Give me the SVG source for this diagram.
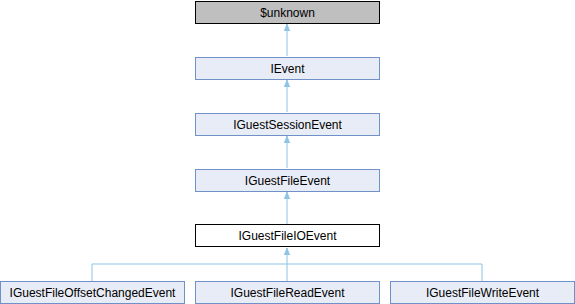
<svg xmlns="http://www.w3.org/2000/svg" width="575" height="304" viewBox="0 0 575 304">
<style>
.n{fill:#E8ECF6;stroke:#7090C8;stroke-width:1}
.t{font-family:"Liberation Sans",Arial,sans-serif;font-size:12px;fill:#000;text-anchor:middle}
.e{fill:none;stroke:#8FC3E6;stroke-width:1}
</style>
<defs>
<marker id="a" viewBox="0 0 10 10" refX="10" refY="5" markerWidth="7" markerHeight="7" orient="auto" markerUnits="userSpaceOnUse">
<path d="M0,1 L10,5 L0,9 Z" fill="#8FC3E6" stroke="#8FC3E6"/>
</marker>
</defs>
<g id="connectors">
<path class="e" d="M287,56 L287,24" marker-end="url(#a)"/>
<path class="e" d="M287,112 L287,80" marker-end="url(#a)"/>
<path class="e" d="M287,168 L287,136" marker-end="url(#a)"/>
<path class="e" d="M287,224 L287,192" marker-end="url(#a)"/>
<path class="e" d="M92,281 L92,264 L482,264 L482,281"/>
<path class="e" d="M287,281 L287,248" marker-end="url(#a)"/>
</g>
<g id="unknown"><rect x="195.5" y="1.5" width="184" height="22" fill="#BFBFBF" stroke="#000"/><text class="t" x="287.5" y="17">$unknown</text></g>
<g id="IEvent"><rect class="n" x="195.5" y="57.5" width="184" height="22"/><text class="t" x="287.5" y="73">IEvent</text></g>
<g id="IGuestSessionEvent"><rect class="n" x="195.5" y="113.5" width="184" height="22"/><text class="t" x="287.5" y="129">IGuestSessionEvent</text></g>
<g id="IGuestFileEvent"><rect class="n" x="195.5" y="169.5" width="184" height="22"/><text class="t" x="287.5" y="185">IGuestFileEvent</text></g>
<g id="IGuestFileIOEvent"><rect x="195.5" y="224.5" width="184" height="22" fill="#fff" stroke="#000"/><text class="t" x="287.5" y="240">IGuestFileIOEvent</text></g>
<g id="IGuestFileOffsetChangedEvent"><rect class="n" x="0.5" y="281.5" width="184" height="22"/><text class="t" x="92.5" y="297">IGuestFileOffsetChangedEvent</text></g>
<g id="IGuestFileReadEvent"><rect class="n" x="195.5" y="281.5" width="184" height="22"/><text class="t" x="287.5" y="297">IGuestFileReadEvent</text></g>
<g id="IGuestFileWriteEvent"><rect class="n" x="390.5" y="281.5" width="184" height="22"/><text class="t" x="482.5" y="297">IGuestFileWriteEvent</text></g>
</svg>
